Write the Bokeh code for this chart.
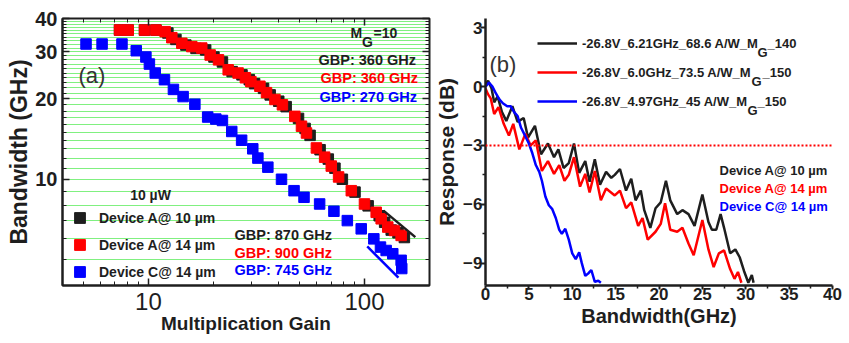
from bokeh.plotting import figure
from bokeh.models import (FixedTicker, LogAxis, Label, Legend, LegendItem, Span,
                          PrintfTickFormatter, Range1d)
from bokeh.layouts import row
from bokeh.embed import file_html
from bokeh.resources import INLINE

FONT = "Liberation Sans"
DARK = "#1e1e1e"
RED = "#ff0000"
BLUE = "#0000ff"
GREEN = "#00e000"

# ---------------- panel (a): bandwidth vs multiplication gain ----------------
gain_a10 = [7.35, 8.06, 9.59, 10.83, 12.3, 13.4, 14.9, 16.6, 18.4, 20.1, 22.0, 24.4, 27.1,
            29.3, 31.0, 34.1, 36.6, 40.1, 43.4, 49.5, 53.1, 56.0, 62.3, 68.0, 73.0, 79.0,
            90.4, 104, 117, 124, 133, 143, 153]
bw_a10 = [36.2, 36.2, 36.2, 36.2, 35.3, 33.4, 31.8, 30.9, 30.5, 28.7, 27.5, 25.3, 24.6,
          23.6, 22.8, 21.9, 20.7, 19.6, 18.7, 16.9, 15.5, 14.6, 12.9, 11.9, 11.0, 10.0,
          8.95, 7.95, 7.3, 6.9, 6.45, 6.3, 6.05]

gain_a14 = [7.35, 8.06, 9.59, 10.83, 11.95, 12.83, 14.27, 15.87, 17.65, 19.3, 21.1, 23.4,
            26.0, 28.1, 29.8, 32.8, 35.2, 38.5, 41.7, 47.6, 51.1, 53.9, 59.9, 65.4, 70.2,
            75.9, 86.9, 100, 113.3, 119.5, 128.2, 137.7, 147.8]
bw_a14 = [36.2, 36.2, 36.2, 36.2, 35.7, 33.9, 32.3, 31.4, 31.0, 29.2, 28.0, 25.7, 25.0,
          24.0, 23.2, 22.3, 21.1, 19.9, 19.0, 17.2, 15.8, 14.9, 13.1, 12.1, 11.2, 10.2,
          9.06, 8.08, 7.52, 7.11, 6.62, 6.43, 6.16]

gain_c14 = [5.14, 6.1, 7.54, 8.78, 9.73, 10.1, 10.75, 11.86, 13.05, 14.47, 16.4, 18.8, 20.5,
            22.0, 24.3, 27.0, 30.4, 32.1, 35.7, 41.3, 47.2, 52.5, 62.0, 72.2, 83.3, 96.6,
            110.5, 118.6, 126, 135.2, 147.8, 148.8]
bw_c14 = [32.1, 32.1, 32.1, 30.3, 28.7, 27.0, 25.0, 23.6, 21.7, 20.4, 19.1, 17.1, 16.8,
          16.6, 15.1, 14.0, 13.0, 12.0, 11.1, 10.0, 9.06, 8.56, 8.08, 7.59, 7.0, 6.52,
          5.98, 5.57, 5.41, 5.26, 4.97, 4.63]

# GBP guide lines at high gain
fit_a_gain = [122.5, 172]
fit_a_bw = [7.63, 6.07]
fit_c_gain = [103, 143.6]
fit_c_bw = [5.6, 4.28]

x_major_a = [10, 100]
x_minor_a = [4, 5, 6, 7, 8, 9, 20, 30, 40, 50, 60, 70, 80, 90, 200]
y_major_a = [10, 20, 30, 40]
y_minor_a = list(range(4, 41))

labels_a = ["Device A@ 10 µm", "Device A@ 14 µm", "Device C@ 14 µm"]

# ---------------- panel (b): frequency response ----------------
freq_a10 = [0, 0.3, 0.7, 1.0, 1.4, 1.9, 2.4, 3.1, 3.7, 4.4, 4.9, 5.7, 6.4, 7.2, 7.9, 8.4,
            9.0, 9.6, 10.2, 10.8, 11.5, 12.0, 12.6, 13.2, 13.9, 14.5, 14.9, 15.5, 16.2,
            16.8, 17.3, 17.9, 18.3, 19.0, 19.6, 20.2, 20.8, 21.3, 22.1, 22.7, 23.4, 24.1,
            25.0, 25.7, 26.1, 26.6, 27.1, 27.5, 28.2, 28.8, 29.3, 29.8, 30.3, 30.7, 30.9]
resp_a10 = [0.1, 0.3, -0.1, -0.8, -0.5, -1.3, -1.75, -1.0, -1.8, -1.6, -2.6, -2.0, -3.45,
            -2.9, -3.6, -3.2, -4.15, -3.9, -2.9, -4.4, -3.8, -4.85, -3.7, -5.0, -4.35,
            -4.65, -4.5, -4.2, -5.3, -4.7, -5.8, -5.3, -6.3, -7.2, -6.2, -5.9, -4.8, -5.8,
            -6.5, -6.3, -6.5, -7.1, -5.5, -6.9, -7.3, -7.3, -6.5, -7.2, -8.5, -8.3, -8.7,
            -9.4, -10.0, -9.6, -10.0]

freq_a14 = [0, 0.3, 0.6, 1.0, 1.5, 2.1, 2.7, 3.2, 3.9, 4.6, 5.2, 5.8, 6.5, 7.2, 7.9, 8.5,
            9.1, 9.6, 10.2, 10.9, 11.5, 12.0, 12.6, 13.3, 13.9, 14.9, 15.5, 16.2, 16.8,
            17.6, 18.1, 18.7, 19.6, 20.2, 20.7, 21.3, 22.1, 22.7, 23.4, 24.0, 25.0, 25.7,
            26.3, 26.9, 27.5, 28.2, 28.7, 29.1, 29.5]
resp_a14 = [-0.1, -0.4, -0.6, -1.4, -1.05, -1.9, -2.5, -1.9, -3.2, -2.4, -3.0, -2.75, -4.3,
            -3.8, -4.45, -4.0, -4.8, -4.5, -3.6, -5.1, -4.45, -5.4, -4.3, -5.8, -5.2,
            -5.55, -5.3, -6.2, -5.9, -7.1, -6.7, -7.8, -7.4, -7.0, -5.95, -7.3, -7.4,
            -7.2, -8.0, -8.6, -6.8, -8.3, -9.2, -8.5, -8.35, -9.3, -9.8, -9.45, -10.0]

freq_c14 = [0, 0.4, 0.8, 1.2, 1.6, 2.0, 2.5, 2.9, 3.3, 3.7, 4.1, 4.5, 5.0, 5.4, 5.8, 6.2,
            6.5, 6.9, 7.3, 7.7, 8.1, 8.5, 8.8, 9.2, 9.6, 10.0, 10.4, 10.8, 11.1, 11.5,
            11.9, 12.2, 12.6, 13.0, 13.3]
resp_c14 = [0.0, 0.2, 0.0, -0.35, -0.65, -0.85, -1.0, -1.0, -1.3, -1.5, -2.1, -2.45, -2.9,
            -3.4, -4.0, -4.35, -4.8, -5.6, -6.05, -6.25, -6.7, -7.3, -7.5, -7.25, -7.8,
            -8.5, -8.8, -8.45, -9.0, -9.65, -9.5, -9.35, -9.95, -9.9, -10.0]

x_major_b = [0, 5, 10, 15, 20, 25, 30, 35, 40]
x_minor_b = [2.5, 7.5, 12.5, 17.5, 22.5, 27.5, 32.5, 37.5]
y_major_b = [-9, -6, -3, 0, 3]
y_minor_b = [-7.5, -4.5, -1.5, 1.5]
level_3db = -3

legend_b = ["-26.8V_6.21GHz_68.6 A/W_M", "-26.8V_6.0GHz_73.5 A/W_M", "-26.8V_4.97GHz_45 A/W_M"]
legend_b_tail = ["_140", "_150", "_150"]
labels_b = ["Device A@ 10 µm", "Device A@ 14 µm", "Device C@ 14 µm"]


def lab(p, x, y, text, color=DARK, size="14.5px", style="bold", align="left"):
    p.add_layout(Label(x=x, y=y, x_units="screen", y_units="screen", text=text,
                       text_color=color, text_font=FONT, text_font_size=size,
                       text_font_style=style, text_baseline="middle", text_align=align))


def style_axis(ax):
    ax.axis_line_color = DARK
    ax.major_tick_line_color = DARK
    ax.minor_tick_line_color = DARK
    ax.major_label_text_font = FONT
    ax.major_label_text_color = DARK
    ax.axis_label_text_font = FONT
    ax.axis_label_text_font_style = "bold"
    ax.axis_label_text_color = DARK


H = 340
TOP = 18
BOTTOM = 55

# ======================= figure (a) =======================
p1 = figure(width=432, height=H, x_axis_type="log", y_axis_type="log",
            x_range=Range1d(4, 200), y_range=Range1d(4, 40),
            output_backend="svg", toolbar_location=None,
            min_border_left=62, min_border_right=3, min_border_top=TOP,
            min_border_bottom=BOTTOM)
p1.outline_line_color = DARK
p1.outline_line_width = 2
p1.xgrid.visible = False
p1.ygrid.ticker = FixedTicker(ticks=y_minor_a[1:])
p1.ygrid.grid_line_color = GREEN
p1.ygrid.grid_line_dash = "1 1"
p1.ygrid.grid_line_width = 1

xt = FixedTicker(ticks=x_major_a, minor_ticks=x_minor_a)
yt = FixedTicker(ticks=y_major_a, minor_ticks=y_minor_a)
p1.xaxis.ticker = xt
p1.yaxis.ticker = yt
p1.xaxis.formatter = PrintfTickFormatter(format="%d")
p1.yaxis.formatter = PrintfTickFormatter(format="%d")
for ax in (p1.xaxis[0], p1.yaxis[0]):
    style_axis(ax)
    ax.axis_line_width = 2
    ax.major_tick_in = 7
    ax.major_tick_out = 0
    ax.minor_tick_in = 4
    ax.minor_tick_out = 0
    ax.major_tick_line_width = 1.5
    ax.minor_tick_line_width = 1
p1.xaxis.major_label_text_font_size = "24px"
p1.xaxis.major_label_standoff = 7
p1.xaxis.axis_label = "Multiplication Gain"
p1.xaxis.axis_label_text_font_size = "19px"
p1.xaxis.axis_label_standoff = 0
p1.yaxis.major_label_text_font_size = "20px"
p1.yaxis.major_label_text_font_style = "bold"
p1.yaxis.major_label_standoff = 5
p1.yaxis.axis_label = "Bandwidth (GHz)"
p1.yaxis.axis_label_text_font_size = "23px"
p1.yaxis.axis_label_standoff = 0

for side, tick, majors in (("above", xt, x_major_a), ("right", yt, y_major_a)):
    ax = LogAxis(ticker=tick, major_label_overrides={m: "" for m in majors},
                 major_label_text_font_size="1px", major_label_standoff=0,
                 axis_line_color=None, major_tick_in=7, major_tick_out=0,
                 minor_tick_in=4, minor_tick_out=0, major_tick_line_color=DARK,
                 minor_tick_line_color=DARK, major_tick_line_width=1.5)
    p1.add_layout(ax, side)

r_a10 = p1.scatter(gain_a10, bw_a10, marker="square", size=10.5, color=DARK)
r_a14 = p1.scatter(gain_a14, bw_a14, marker="square", size=10.5, color=RED)
r_c14 = p1.scatter(gain_c14, bw_c14, marker="square", size=10.5, color=BLUE)
p1.line(fit_a_gain, fit_a_bw, line_color=DARK, line_width=2.5)
p1.line(fit_c_gain, fit_c_bw, line_color=BLUE, line_width=2.5)

leg1 = Legend(items=[LegendItem(label=labels_a[i], renderers=[r])
                     for i, r in enumerate((r_a10, r_a14, r_c14))],
              location=(4, 0), glyph_width=27, glyph_height=27, label_height=20,
              spacing=0, padding=0, margin=0, label_standoff=6,
              label_text_font=FONT, label_text_font_size="14px",
              label_text_font_style="bold", label_text_color=DARK,
              border_line_alpha=0, background_fill_alpha=0)
p1.add_layout(leg1)

lab(p1, 88, 91, "10 µW", size="14px", align="center")
lab(p1, 16, 210, "(a)", color="#333333", size="22px", style="normal")
lab(p1, 288, 252.5, "M", size="14px")
lab(p1, 299.5, 243.3, "G", size="14px")
lab(p1, 311, 252.5, "=10", size="14px")
lab(p1, 256, 226, "GBP: 360 GHz", color=DARK)
lab(p1, 258, 207.5, "GBP: 360 GHz", color=RED)
lab(p1, 257, 189, "GBP: 270 GHz", color=BLUE)
lab(p1, 172, 51, "GBP: 870 GHz", color=DARK)
lab(p1, 172, 32.5, "GBP: 900 GHz", color=RED)
lab(p1, 172, 16, "GBP: 745 GHz", color=BLUE)

# ======================= figure (b) =======================
p2 = figure(width=417, height=H, x_range=Range1d(0, 40), y_range=Range1d(-10.14, 3.47),
            output_backend="svg", toolbar_location=None,
            min_border_left=53, min_border_right=17, min_border_top=TOP,
            min_border_bottom=BOTTOM)
p2.outline_line_color = None
p2.grid.visible = False
p2.xaxis.ticker = FixedTicker(ticks=x_major_b, minor_ticks=x_minor_b)
p2.yaxis.ticker = FixedTicker(ticks=y_major_b, minor_ticks=y_minor_b)
for ax in (p2.xaxis[0], p2.yaxis[0]):
    style_axis(ax)
    ax.axis_line_width = 2.5
    ax.major_tick_in = 0
    ax.major_tick_out = 5
    ax.minor_tick_in = 0
    ax.minor_tick_out = 3
    ax.major_tick_line_width = 2
    ax.minor_tick_line_width = 1.5
    ax.major_label_text_font_style = "bold"
p2.xaxis.major_tick_out = 4
p2.xaxis.major_label_text_font_size = "17px"
p2.xaxis.major_label_standoff = -2
p2.xaxis.axis_label = "Bandwidth(GHz)"
p2.xaxis.axis_label_text_font_size = "20px"
p2.xaxis.axis_label_standoff = 2
p2.yaxis.major_label_text_font_size = "17px"
p2.yaxis.major_label_standoff = -2
p2.yaxis.axis_label = "Response (dB)"
p2.yaxis.axis_label_text_font_size = "21px"
p2.yaxis.axis_label_standoff = 2

p2.add_layout(Span(location=level_3db, dimension="width", line_color=RED,
                   line_dash="2 2", line_width=2))
b_a10 = p2.line(freq_a10, resp_a10, line_color=DARK, line_width=2.5)
b_a14 = p2.line(freq_a14, resp_a14, line_color=RED, line_width=2.5)
b_c14 = p2.line(freq_c14, resp_c14, line_color=BLUE, line_width=2.5)

leg2 = Legend(items=[LegendItem(label=legend_b[i], renderers=[r])
                     for i, r in enumerate((b_a10, b_a14, b_c14))],
              location=(52, 174), glyph_width=40, glyph_height=20, label_height=20,
              spacing=9, padding=0, margin=0, label_standoff=5,
              label_text_font=FONT, label_text_font_size="13px",
              label_text_font_style="bold", label_text_color=DARK,
              border_line_alpha=0, background_fill_alpha=0)
p2.add_layout(leg2)

g_x = [272, 266, 262]
t_x = [282, 277, 272]
row_y = [242, 213, 184]
for i in range(3):
    lab(p2, g_x[i], row_y[i] - 8.5, "G", size="13px")
    lab(p2, t_x[i], row_y[i], legend_b_tail[i], size="13px")

lab(p2, 4, 221.5, "(b)", color="#333333", size="22px", style="normal")
lab(p2, 234, 115, labels_b[0], color=DARK, size="13px")
lab(p2, 234, 97, labels_b[1], color=RED, size="13px")
lab(p2, 234, 79, labels_b[2], color=BLUE, size="13px")

layout = row(p1, p2)
open("out.html", "w").write(file_html(layout, INLINE))
